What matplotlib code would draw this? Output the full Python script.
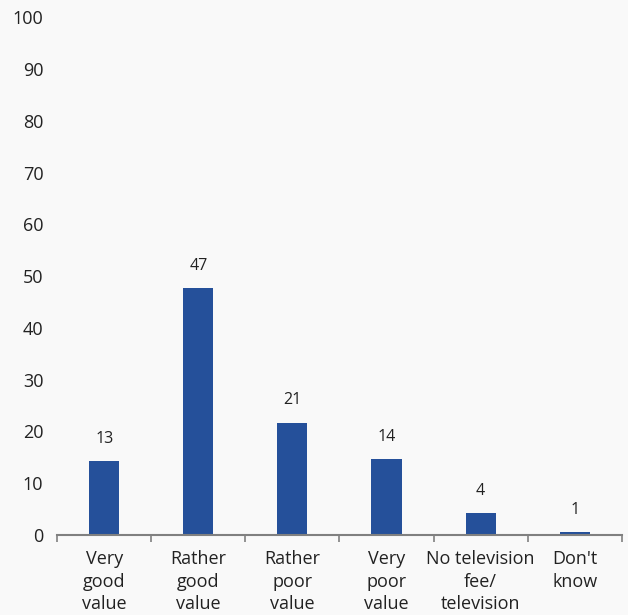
import matplotlib.pyplot as plt
import numpy as np

plt.rcParams['font.family'] = ['Open Sans', 'DejaVu Sans']

categories = ['Very\ngood\nvalue', 'Rather\ngood\nvalue', 'Rather\npoor\nvalue',
              'Very\npoor\nvalue', 'No television\nfee/\ntelevision', "Don't\nknow"]
heights = [14.3, 47.7, 21.7, 14.7, 4.3, 0.6]   # bar heights as drawn
labels = ['13', '47', '21', '14', '4', '1']     # printed values

bg = '#f9f9f9'
fig = plt.figure(figsize=(6.28, 6.15), dpi=100, facecolor=bg)
ax = fig.add_axes([0.091, 0.130, 0.899, 0.842], facecolor=bg)

x = np.arange(len(categories))
bars = ax.bar(x, heights, width=0.32, color='#25509a')
for b, lab in zip(bars, labels):
    ax.annotate(lab, (b.get_x() + b.get_width() / 2, b.get_height()),
                xytext=(0, 16), textcoords='offset points',
                ha='center', va='center', fontsize=11.5, color='#222222')

ax.set_ylim(0, 100)
ax.set_xlim(-0.5, len(categories) - 0.5)
ax.set_yticks(range(0, 101, 10))
ax.tick_params(axis='y', length=0, labelsize=13, pad=10, labelcolor='#222222')

ax.set_xticks(x)
ax.set_xticklabels(categories, fontsize=13, linespacing=1.3, color='#222222')
ax.tick_params(axis='x', which='major', length=0, pad=11)
ax.set_xticks(np.arange(-0.5, len(categories), 1), minor=True)
ax.tick_params(axis='x', which='minor', length=5, width=1.2, color='#808080', direction='out')

for s in ['top', 'right', 'left']:
    ax.spines[s].set_visible(False)
ax.spines['bottom'].set_color('#808080')
ax.spines['bottom'].set_linewidth(1.5)

fig.savefig('out.png', dpi=100, facecolor=bg)
